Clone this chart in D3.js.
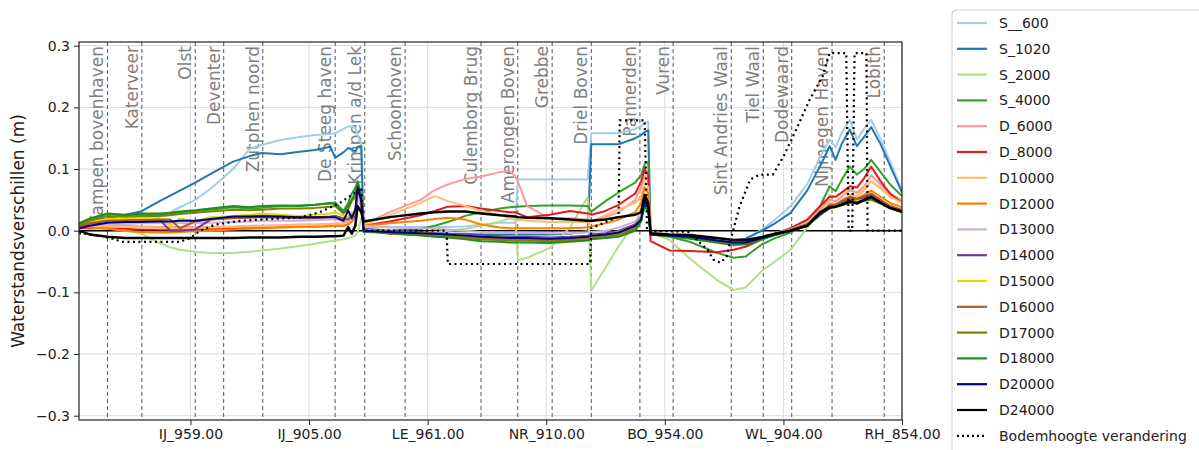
<!DOCTYPE html>
<html>
<head>
<meta charset="utf-8">
<title>Waterstandsverschillen</title>
<script src="https://d3js.org/d3.v7.min.js"></script>
<style>
  body { margin: 0; background: #fff; }
  text { font-family: "DejaVu Sans", sans-serif; }
</style>
</head>
<body>
<svg width="1199" height="450"></svg>
<script>
// index langs de riviertakken (IJssel | Lek/Nederrijn | Waal/Bovenrijn)
const xs = [
  6, 15, 30, 45, 58, 74, 83, 91, 104, 117, 136, 150, 160, 176, 192, 205, 218, 222, 229, 233, 236, 239, 241, 244,
  246, 268, 294, 306, 317, 332, 345, 361, 369, 374, 376, 384, 403, 420, 435, 438, 450, 461, 475, 480, 483, 486,
  488, 504, 521, 544, 558, 568, 582, 593, 606, 620, 631, 639, 644, 649, 656, 662, 668, 674, 682, 690, 700
];

const S__600 = [
  0.010, 0.012, 0.018, 0.020, 0.021, 0.025, 0.030, 0.038, 0.050, 0.068, 0.100, 0.133, 0.139, 0.147, 0.152, 0.155, 0.157, 0.158, 0.165, 0.169, 0.169, 0.167, 0.155, 0.140,
  0.005, 0.006, 0.006, 0.006, 0.006, 0.007, 0.010, 0.013, 0.013, 0.013, 0.083, 0.083, 0.083, 0.083, 0.083, 0.158, 0.158, 0.158, 0.165, 0.170, 0.175, 0.177,
  -0.006, -0.008, -0.010, -0.014, -0.016, -0.014, 0.002, 0.018, 0.040, 0.075, 0.120, 0.148, 0.135, 0.158, 0.180, 0.148, 0.165, 0.180, 0.148, 0.112, 0.065
];
const S_1020 = [
  0.010, 0.015, 0.020, 0.026, 0.031, 0.048, 0.057, 0.065, 0.078, 0.092, 0.112, 0.121, 0.126, 0.124, 0.128, 0.131, 0.136, 0.118, 0.127, 0.134, 0.132, 0.128, 0.136, 0.137,
  -0.002, -0.003, -0.004, -0.004, -0.005, -0.005, -0.006, -0.006, -0.006, -0.006, -0.006, -0.006, -0.006, -0.005, 0.000, 0.140, 0.140, 0.140, 0.150, 0.155, 0.160, 0.163,
  -0.006, -0.008, -0.010, -0.013, -0.015, -0.013, 0.000, 0.012, 0.029, 0.065, 0.105, 0.137, 0.115, 0.140, 0.164, 0.137, 0.152, 0.168, 0.140, 0.105, 0.062
];
const S_2000 = [
  0.008, 0.006, 0.004, 0.000, -0.004, -0.020, -0.027, -0.031, -0.034, -0.036, -0.036, -0.034, -0.032, -0.029, -0.025, -0.021, -0.017, -0.016, -0.014, -0.012, -0.010, -0.008, -0.002, 0.020,
  0.000, -0.002, -0.004, -0.002, 0.000, 0.003, 0.008, 0.015, 0.020, 0.023, -0.048, -0.044, -0.028, 0.005, 0.055, -0.097, -0.060, -0.025, 0.012, 0.035, 0.060, 0.050,
  -0.003, -0.015, -0.045, -0.080, -0.096, -0.092, -0.065, -0.050, -0.031, 0.005, 0.030, 0.058, 0.055, 0.060, 0.068, 0.060, 0.068, 0.080, 0.070, 0.060, 0.050
];
const S_4000 = [
  0.012, 0.018, 0.027, 0.025, 0.026, 0.026, 0.027, 0.030, 0.032, 0.034, 0.038, 0.036, 0.037, 0.040, 0.041, 0.042, 0.044, 0.046, 0.032, 0.045, 0.060, 0.070, 0.080, 0.060,
  0.000, 0.000, 0.003, 0.008, 0.014, 0.024, 0.030, 0.036, 0.038, 0.039, 0.039, 0.040, 0.041, 0.041, 0.040, 0.031, 0.048, 0.062, 0.078, 0.090, 0.108, 0.112,
  -0.005, -0.010, -0.018, -0.036, -0.044, -0.042, -0.022, -0.012, -0.003, 0.010, 0.040, 0.072, 0.064, 0.082, 0.104, 0.091, 0.100, 0.115, 0.095, 0.075, 0.056
];
const D_6000 = [
  0.008, 0.008, 0.009, 0.008, 0.007, 0.006, 0.006, 0.006, 0.006, 0.006, 0.007, 0.008, 0.008, 0.009, 0.010, 0.010, 0.011, 0.012, 0.012, 0.014, 0.018, 0.025, 0.060, 0.040,
  0.010, 0.030, 0.050, 0.066, 0.075, 0.084, 0.088, 0.095, 0.097, 0.088, 0.080, 0.040, 0.020, 0.020, 0.018, 0.015, 0.022, 0.030, 0.050, 0.070, 0.090, 0.080,
  -0.003, -0.008, -0.012, -0.020, -0.024, -0.022, -0.012, -0.004, 0.004, 0.015, 0.035, 0.050, 0.048, 0.055, 0.065, 0.062, 0.072, 0.090, 0.075, 0.060, 0.048
];
const D_8000 = [
  0.004, 0.004, 0.004, 0.003, 0.002, 0.002, 0.002, 0.002, 0.002, 0.003, 0.004, 0.005, 0.005, 0.006, 0.006, 0.007, 0.008, 0.008, 0.008, 0.010, 0.015, 0.022, 0.060, 0.040,
  0.008, 0.015, 0.025, 0.032, 0.039, 0.040, 0.036, 0.032, 0.030, 0.030, 0.028, 0.022, 0.026, 0.032, 0.028, 0.026, 0.032, 0.042, 0.060, 0.080, 0.100, 0.090,
  -0.017, -0.032, -0.033, -0.035, -0.031, -0.026, -0.014, -0.006, 0.004, 0.018, 0.040, 0.055, 0.055, 0.062, 0.072, 0.070, 0.085, 0.104, 0.080, 0.060, 0.045
];
const D10000 = [
  0.006, 0.006, 0.007, 0.006, 0.005, 0.004, 0.004, 0.004, 0.004, 0.005, 0.006, 0.007, 0.007, 0.008, 0.009, 0.009, 0.010, 0.011, 0.011, 0.013, 0.018, 0.024, 0.065, 0.045,
  0.010, 0.025, 0.045, 0.056, 0.048, 0.040, 0.032, 0.025, 0.020, 0.018, 0.018, 0.016, 0.014, 0.014, 0.014, 0.015, 0.025, 0.035, 0.045, 0.055, 0.080, 0.070,
  -0.003, -0.007, -0.010, -0.018, -0.022, -0.020, -0.012, -0.005, 0.003, 0.012, 0.030, 0.045, 0.044, 0.050, 0.058, 0.056, 0.065, 0.080, 0.068, 0.055, 0.045
];
const D12000 = [
  0.006, 0.005, 0.003, 0.000, -0.002, -0.003, -0.003, -0.002, -0.001, 0.000, 0.002, 0.003, 0.004, 0.005, 0.006, 0.006, 0.007, 0.008, 0.008, 0.010, 0.015, 0.020, 0.065, 0.040,
  0.008, 0.012, 0.016, 0.019, 0.021, 0.018, 0.010, 0.005, 0.004, 0.004, 0.004, 0.004, 0.004, 0.004, 0.005, 0.007, 0.012, 0.018, 0.030, 0.045, 0.070, 0.060,
  -0.004, -0.007, -0.010, -0.017, -0.021, -0.019, -0.011, -0.005, 0.002, 0.010, 0.028, 0.042, 0.042, 0.046, 0.052, 0.052, 0.058, 0.065, 0.055, 0.045, 0.038
];
const D13000 = [
  0.005, 0.008, 0.010, 0.011, 0.012, 0.012, 0.012, 0.012, 0.012, 0.013, 0.014, 0.015, 0.016, 0.016, 0.016, 0.017, 0.018, 0.018, 0.016, 0.015, 0.022, 0.020, 0.060, 0.040,
  0.008, 0.005, 0.004, 0.003, 0.002, 0.000, -0.002, -0.003, -0.003, -0.003, -0.003, -0.003, -0.004, -0.004, -0.003, -0.002, 0.000, 0.005, 0.015, 0.025, 0.055, 0.045,
  -0.005, -0.007, -0.009, -0.015, -0.018, -0.017, -0.010, -0.005, 0.002, 0.010, 0.026, 0.038, 0.040, 0.044, 0.050, 0.048, 0.052, 0.055, 0.048, 0.040, 0.033
];
const D14000 = [
  0.006, 0.012, 0.016, 0.017, 0.018, 0.018, 0.000, 0.000, 0.002, 0.018, 0.022, 0.024, 0.025, 0.024, 0.022, 0.022, 0.023, 0.024, 0.020, 0.018, 0.028, 0.020, 0.070, 0.050,
  0.003, 0.000, -0.002, -0.004, -0.005, -0.007, -0.008, -0.009, -0.010, -0.010, -0.010, -0.010, -0.011, -0.010, -0.008, -0.006, -0.004, 0.000, 0.010, 0.022, 0.050, 0.040,
  -0.006, -0.008, -0.010, -0.016, -0.020, -0.019, -0.011, -0.005, 0.002, 0.010, 0.027, 0.040, 0.041, 0.045, 0.050, 0.049, 0.054, 0.058, 0.048, 0.040, 0.033
];
const D15000 = [
  0.008, 0.014, 0.019, 0.020, 0.020, 0.020, 0.008, 0.020, 0.015, 0.022, 0.024, 0.026, 0.028, 0.026, 0.024, 0.026, 0.028, 0.030, 0.024, 0.022, 0.030, 0.024, 0.072, 0.050,
  0.002, -0.002, -0.004, -0.005, -0.006, -0.008, -0.010, -0.011, -0.012, -0.012, -0.012, -0.012, -0.013, -0.012, -0.010, -0.008, -0.006, -0.002, 0.008, 0.020, 0.050, 0.040,
  -0.006, -0.008, -0.011, -0.017, -0.021, -0.020, -0.012, -0.006, 0.001, 0.009, 0.026, 0.038, 0.040, 0.043, 0.046, 0.048, 0.050, 0.050, 0.045, 0.038, 0.032
];
const D16000 = [
  0.008, 0.012, 0.016, 0.016, 0.017, 0.018, 0.018, 0.004, 0.015, 0.018, 0.020, 0.021, 0.022, 0.021, 0.020, 0.020, 0.022, 0.023, 0.020, 0.018, 0.025, 0.022, 0.068, 0.048,
  0.001, -0.004, -0.006, -0.007, -0.008, -0.010, -0.012, -0.013, -0.014, -0.014, -0.014, -0.014, -0.015, -0.014, -0.012, -0.010, -0.008, -0.004, 0.006, 0.018, 0.048, 0.038,
  -0.006, -0.009, -0.012, -0.018, -0.022, -0.021, -0.013, -0.006, 0.001, 0.010, 0.028, 0.042, 0.042, 0.048, 0.055, 0.052, 0.056, 0.060, 0.050, 0.040, 0.033
];
const D17000 = [
  0.010, 0.016, 0.024, 0.023, 0.024, 0.024, 0.025, 0.027, 0.029, 0.031, 0.034, 0.033, 0.034, 0.036, 0.036, 0.037, 0.039, 0.040, 0.028, 0.035, 0.048, 0.055, 0.075, 0.055,
  0.000, -0.005, -0.007, -0.009, -0.010, -0.012, -0.014, -0.015, -0.016, -0.016, -0.016, -0.016, -0.017, -0.016, -0.014, -0.012, -0.010, -0.007, 0.003, 0.016, 0.045, 0.035,
  -0.006, -0.009, -0.012, -0.018, -0.021, -0.021, -0.013, -0.007, 0.000, 0.008, 0.025, 0.036, 0.038, 0.041, 0.045, 0.046, 0.048, 0.050, 0.044, 0.036, 0.030
];
const D18000 = [
  0.012, 0.020, 0.028, 0.026, 0.028, 0.028, 0.029, 0.031, 0.033, 0.036, 0.040, 0.038, 0.040, 0.041, 0.040, 0.042, 0.045, 0.043, 0.030, 0.040, 0.050, 0.062, 0.078, 0.055,
  0.000, -0.004, -0.008, -0.010, -0.011, -0.014, -0.017, -0.018, -0.019, -0.019, -0.019, -0.019, -0.020, -0.018, -0.016, -0.014, -0.012, -0.010, 0.000, 0.015, 0.040, 0.030,
  -0.006, -0.009, -0.013, -0.019, -0.023, -0.022, -0.014, -0.007, 0.000, 0.008, 0.026, 0.038, 0.039, 0.042, 0.046, 0.046, 0.049, 0.052, 0.045, 0.037, 0.030
];
const D20000 = [
  0.004, 0.008, 0.013, 0.014, 0.014, 0.015, 0.015, 0.016, 0.016, 0.019, 0.023, 0.023, 0.023, 0.023, 0.022, 0.022, 0.022, 0.022, 0.016, 0.033, 0.020, 0.035, 0.070, 0.050,
  0.000, -0.002, -0.004, -0.005, -0.006, -0.008, -0.010, -0.011, -0.012, -0.012, -0.012, -0.012, -0.013, -0.012, -0.010, -0.008, -0.006, -0.003, 0.008, 0.018, 0.048, 0.038,
  -0.006, -0.008, -0.010, -0.016, -0.019, -0.019, -0.012, -0.006, 0.000, 0.008, 0.028, 0.037, 0.039, 0.042, 0.047, 0.045, 0.050, 0.054, 0.046, 0.037, 0.031
];
const D24000 = [
  0.000, -0.006, -0.010, -0.012, -0.012, -0.012, -0.012, -0.012, -0.012, -0.012, -0.012, -0.011, -0.011, -0.011, -0.010, -0.010, -0.009, -0.009, -0.008, 0.006, -0.005, 0.008, 0.040, 0.030,
  0.015, 0.022, 0.028, 0.030, 0.031, 0.031, 0.028, 0.025, 0.024, 0.023, 0.022, 0.021, 0.020, 0.018, 0.016, 0.016, 0.018, 0.022, 0.026, 0.030, 0.058, 0.045,
  -0.004, -0.006, -0.007, -0.012, -0.015, -0.015, -0.010, -0.005, 0.000, 0.008, 0.030, 0.038, 0.039, 0.042, 0.048, 0.044, 0.050, 0.055, 0.045, 0.037, 0.031
];

// bodemhoogte verandering heeft eigen punten (trapvormig)
const bodemX = [
  6, 24, 36, 42, 91, 100, 108, 121, 142, 176, 192, 209, 226, 239, 244, 246,
  316, 317, 437, 438, 461, 462, 483, 485,
  488, 521, 527, 536, 541, 547, 552, 557, 563, 572, 580, 591, 600, 612, 622, 633, 639, 653, 655, 658, 660, 670, 671, 700
];
const bodemY = [
  -0.004, -0.008, -0.014, -0.018, -0.018, -0.012, 0.000, 0.010, 0.016, 0.020, 0.021, 0.030, 0.045, 0.062, 0.070, 0.000,
  0.000, -0.054, -0.054, 0.004, 0.023, 0.179, 0.179, 0.000,
  0.000, -0.002, -0.015, -0.031, -0.047, -0.052, -0.042, -0.004, 0.039, 0.083, 0.091, 0.091, 0.120, 0.169, 0.212, 0.250, 0.288, 0.288, 0.000, 0.000, 0.288, 0.288, 0.000, 0.000
];

const seriesNames = ["S__600", "S_1020", "S_2000", "S_4000", "D_6000", "D_8000", "D10000", "D12000",
  "D13000", "D14000", "D15000", "D16000", "D17000", "D18000", "D20000", "D24000"];
const seriesValues = [S__600, S_1020, S_2000, S_4000, D_6000, D_8000, D10000, D12000,
  D13000, D14000, D15000, D16000, D17000, D18000, D20000, D24000];
const seriesColors = ["#a6cee3", "#1f78b4", "#b2df8a", "#33a02c", "#fb9a99", "#e31a1c", "#fdbf6f", "#ff7f00",
  "#cab2d6", "#6a3d9a", "#dede00", "#b15928", "#808000", "#228b22", "#000080", "#000000"];
const bodemName = "Bodemhoogte verandering";

// locaties met stippellijn
const locNames = ["Kampen bovenhaven", "Katerveer", "Olst", "Deventer", "Zutphen noord", "De Steeg haven",
  "Krimpen a/d Lek", "Schoonhoven", "Culemborg Brug", "Amerongen Boven", "Grebbe", "Driel Boven",
  "Pannerden", "Vuren", "Sint Andries Waal", "Tiel Waal", "Dodewaard", "Nijmegen Haven", "Lobith"];
const locX = [30, 59, 104, 128, 161, 222, 247, 281, 345, 376, 405, 438, 479, 507, 556, 583, 607, 641, 685];

const xTicks = [100, 200, 300, 400, 500, 600, 700];
const xTickLabels = ["IJ_959.00", "IJ_905.00", "LE_961.00", "NR_910.00", "BO_954.00", "WL_904.00", "RH_854.00"];
const yTicks = [-0.3, -0.2, -0.1, 0.0, 0.1, 0.2, 0.3];

const plot = {left: 79, right: 902, top: 42, bottom: 420};

const svg = d3.select("svg");

const x = d3.scaleLinear().domain([6, 700]).range([plot.left, plot.right]);
const y = d3.scaleLinear().domain([-0.307, 0.306]).range([plot.bottom, plot.top]);

svg.append("defs").append("clipPath").attr("id", "plotclip")
  .append("rect")
  .attr("x", plot.left).attr("y", plot.top)
  .attr("width", plot.right - plot.left).attr("height", plot.bottom - plot.top);

// grid
const grid = svg.append("g").attr("stroke", "#dcdcdc").attr("stroke-width", 1);
grid.selectAll("line.gy").data(yTicks).enter().append("line")
  .attr("x1", plot.left).attr("x2", plot.right)
  .attr("y1", d => y(d)).attr("y2", d => y(d));
grid.selectAll("line.gx").data(xTicks).enter().append("line")
  .attr("x1", d => x(d)).attr("x2", d => x(d))
  .attr("y1", plot.top).attr("y2", plot.bottom);

// locaties
svg.append("g").selectAll("line").data(locX).enter().append("line")
  .attr("x1", d => x(d)).attr("x2", d => x(d))
  .attr("y1", plot.top).attr("y2", plot.bottom)
  .attr("stroke", "#555").attr("stroke-width", 1).attr("stroke-dasharray", "4,3");

svg.append("g").selectAll("text").data(locNames).enter().append("text")
  .attr("transform", (d, i) => "translate(" + (x(locX[i]) - 4) + ",46) rotate(-90)")
  .attr("text-anchor", "end")
  .attr("font-size", 17)
  .attr("fill", "#7f7f7f")
  .text(d => d);

// nullijn
svg.append("line")
  .attr("x1", plot.left).attr("x2", plot.right)
  .attr("y1", y(0)).attr("y2", y(0))
  .attr("stroke", "#000").attr("stroke-width", 1.5);

const line = d3.line()
  .x((d, i) => x(xs[i]))
  .y(d => y(d));

const lines = svg.append("g").attr("clip-path", "url(#plotclip)");

lines.selectAll("path.serie").data(seriesValues).enter().append("path")
  .attr("d", d => line(d))
  .attr("fill", "none")
  .attr("stroke", (d, i) => seriesColors[i])
  .attr("stroke-width", (d, i) => i == 15 ? 2.5 : 2)
  .attr("stroke-linejoin", "round");

const bodemLine = d3.line()
  .x((d, i) => x(bodemX[i]))
  .y(d => y(d));

lines.append("path")
  .attr("d", bodemLine(bodemY))
  .attr("fill", "none")
  .attr("stroke", "#000")
  .attr("stroke-width", 2.2)
  .attr("stroke-dasharray", "2,3.5");

// assen
const yAxis = svg.append("g")
  .attr("transform", "translate(" + plot.left + ",0)")
  .call(d3.axisLeft(y).tickValues(yTicks).tickFormat(d3.format(".1f")).tickSize(5).tickPadding(4));

const xAxis = svg.append("g")
  .attr("transform", "translate(0," + plot.bottom + ")")
  .call(d3.axisBottom(x).tickValues(xTicks).tickFormat((d, i) => xTickLabels[i]).tickSize(5).tickPadding(4));

[yAxis, xAxis].forEach(a => {
  a.select(".domain").remove();
  a.selectAll("text").attr("font-size", 14).attr("fill", "#222").attr("font-family", "DejaVu Sans");
  a.selectAll("line").attr("stroke", "#222");
});

svg.append("rect")
  .attr("x", plot.left).attr("y", plot.top)
  .attr("width", plot.right - plot.left).attr("height", plot.bottom - plot.top)
  .attr("fill", "none").attr("stroke", "#222").attr("stroke-width", 1.2);

svg.append("text")
  .attr("transform", "translate(24," + ((plot.top + plot.bottom) / 2) + ") rotate(-90)")
  .attr("text-anchor", "middle")
  .attr("font-size", 17)
  .attr("fill", "#222")
  .text("Waterstandsverschillen (m)");

// legenda
const legend = svg.append("g").attr("transform", "translate(952,10)");
legend.append("rect")
  .attr("width", 260).attr("height", 460).attr("rx", 4)
  .attr("fill", "#fff").attr("stroke", "#cccccc");

const legendRows = seriesNames.concat([bodemName]);
const row = legend.selectAll("g.row").data(legendRows).enter().append("g")
  .attr("transform", (d, i) => "translate(0," + (13 + i * 25.8) + ")");

row.append("line")
  .attr("x1", 5).attr("x2", 35)
  .attr("stroke", (d, i) => i < seriesColors.length ? seriesColors[i] : "#000")
  .attr("stroke-width", 2.2)
  .attr("stroke-dasharray", (d, i) => i < seriesColors.length ? null : "2,3");

row.append("text")
  .attr("x", 47).attr("dy", "0.35em")
  .attr("font-size", 14)
  .attr("fill", "#222")
  .text(d => d);
</script>
</body>
</html>
